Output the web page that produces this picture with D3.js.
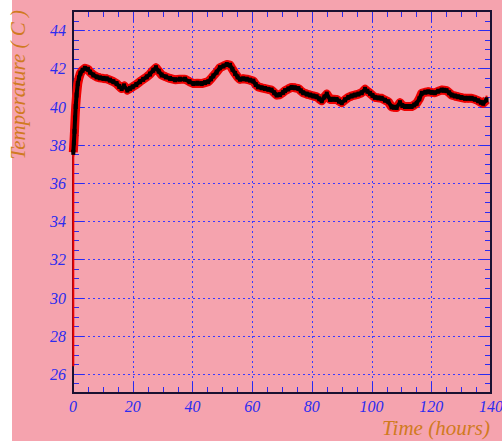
<!DOCTYPE html>
<html>
<head>
<meta charset="utf-8">
<script src="https://cdn.jsdelivr.net/npm/d3@7"></script>
<style>
  body { margin: 0; background: #fff; }
  svg { display: block; }
</style>
</head>
<body>
<svg id="chart" width="502" height="441"></svg>
<script>
// readings (hours since start, temperature in C)
var hours = [0.1, 0.3, 0.5, 0.7, 0.9, 1.2, 1.6, 2.0, 2.5, 3.2, 4.0, 5.0, 5.7, 6.8, 7.9, 9.0,
  10.2, 11.3, 12.4, 13.5, 14.6, 15.5, 16.3, 17.1, 18.2, 19.1, 20.0, 21.2, 22.4, 23.5, 24.7,
  25.8, 26.9, 27.8, 28.7, 29.7, 31.1, 32.5, 34.2, 35.8, 37.5, 39.0, 40.3, 41.7, 43.1, 44.2,
  45.3, 46.2, 47.0, 48.1, 49.2, 50.4, 51.5, 52.6, 53.4, 54.3, 55.1, 55.9, 57.0, 58.2, 59.3,
  60.4, 61.2, 62.0, 63.2, 64.3, 65.4, 66.5, 67.4, 68.2, 69.3, 70.4, 71.0, 72.1, 73.2, 74.3,
  75.5, 76.3, 77.1, 78.3, 79.4, 80.5, 81.6, 82.5, 83.3, 84.2, 85.0, 86.1, 87.2, 88.3, 89.1,
  90.0, 91.1, 92.2, 93.3, 94.4, 95.6, 96.7, 97.8, 98.6, 99.5, 100.3, 101.1, 102.3, 103.4,
  104.5, 105.6, 106.7, 107.5, 108.4, 109.5, 110.3, 111.2, 112.3, 113.4, 114.3, 115.1, 116.0,
  116.8, 118.0, 119.0, 120.1, 121.2, 122.3, 123.5, 124.3, 125.1, 126.0, 126.8, 127.9, 129.0,
  130.1, 131.3, 132.4, 133.5, 134.6, 135.7, 136.6, 137.4, 138.5];
var temps = [37.6, 38.1, 38.7, 39.4, 40.0, 40.6, 41.2, 41.5, 41.75, 41.9, 42.0, 41.95, 41.8, 41.65, 41.55, 41.5,
  41.47, 41.45, 41.38, 41.3, 41.2, 41.05, 40.94, 41.08, 40.86, 40.95, 41.03, 41.15, 41.3, 41.42, 41.55,
  41.7, 41.9, 42.03, 41.85, 41.65, 41.55, 41.47, 41.4, 41.43, 41.43, 41.3, 41.2, 41.22, 41.2, 41.25,
  41.3, 41.45, 41.6, 41.8, 42.03, 42.12, 42.2, 42.16, 41.95, 41.73, 41.55, 41.43, 41.45, 41.43, 41.38,
  41.33, 41.15, 41.03, 40.98, 40.94, 40.9, 40.86, 40.72, 40.6, 40.62, 40.74, 40.83, 40.92, 41.0, 40.98,
  40.94, 40.82, 40.72, 40.65, 40.6, 40.55, 40.51, 40.4, 40.3, 40.5, 40.65, 40.37, 40.38, 40.37, 40.28,
  40.2, 40.35, 40.48, 40.55, 40.6, 40.65, 40.72, 40.9, 40.8, 40.69, 40.58, 40.48, 40.45, 40.43,
  40.33, 40.25, 39.98, 39.96, 39.95, 40.2, 40.05, 40.0, 40.0, 40.0, 40.08, 40.17, 40.4,
  40.69, 40.75, 40.77, 40.74, 40.72, 40.8, 40.86, 40.85, 40.83, 40.72, 40.6, 40.55, 40.51,
  40.47, 40.43, 40.43, 40.43, 40.38, 40.3, 40.22, 40.17, 40.35];
// first reading has a long lower error bar
var firstLow = [0.1, 26.4];
var tempErr = 0.22;

var xTicks = [0, 20, 40, 60, 80, 100, 120, 140];
var yTicks = [26, 28, 30, 32, 34, 36, 38, 40, 42, 44];

var svg = d3.select("#chart");
var W = 502, H = 441;
var m = { left: 73, top: 11, right: 491, bottom: 393 };

svg.append("rect").attr("x", 12).attr("y", 0).attr("width", W - 12).attr("height", H)
  .attr("fill", "#f5a3ae");

var x = d3.scaleLinear().domain([0, 140]).range([m.left, m.right]);
var y = d3.scaleLinear().domain([25, 45]).range([m.bottom, m.top]);

var blue = "#2b2bf0";
var font = "'Liberation Serif', 'DejaVu Serif', serif";

// grid
var grid = svg.append("g").attr("stroke", "#3a3aff").attr("stroke-width", 1)
  .attr("stroke-dasharray", "2,3").attr("shape-rendering", "crispEdges");
grid.selectAll(".gx").data(xTicks.slice(1, -1)).enter().append("line")
  .attr("x1", d => Math.round(x(d)) + 0.5).attr("x2", d => Math.round(x(d)) + 0.5)
  .attr("y1", m.top).attr("y2", m.bottom);
grid.selectAll(".gy").data(yTicks).enter().append("line")
  .attr("y1", d => Math.round(y(d)) + 0.5).attr("y2", d => Math.round(y(d)) + 0.5)
  .attr("x1", m.left).attr("x2", m.right);

// ticks
var minorX = d3.range(0, 140.01, 5);
var minorY = d3.range(25, 45.01, 0.5);
var tk = svg.append("g").attr("stroke", blue).attr("stroke-width", 1)
  .attr("shape-rendering", "crispEdges");
minorX.forEach(function (d) {
  var len = d % 20 === 0 ? 11 : 6;
  var px = Math.round(x(d)) + 0.5;
  tk.append("line").attr("x1", px).attr("x2", px).attr("y1", m.bottom).attr("y2", m.bottom - len);
  tk.append("line").attr("x1", px).attr("x2", px).attr("y1", m.top).attr("y2", m.top + len);
});
minorY.forEach(function (d) {
  var len = d % 2 === 0 ? 11 : 6;
  var py = Math.round(y(d)) + 0.5;
  tk.append("line").attr("y1", py).attr("y2", py).attr("x1", m.left).attr("x2", m.left + len);
  tk.append("line").attr("y1", py).attr("y2", py).attr("x1", m.right).attr("x2", m.right - len);
});

// frame
svg.append("rect").attr("x", m.left).attr("y", m.top)
  .attr("width", m.right - m.left).attr("height", m.bottom - m.top)
  .attr("fill", "none").attr("stroke", "#1a1030").attr("stroke-width", 2);

// data: error bars, band, markers
var pts = hours.map((h, i) => ({ h: h, t: temps[i] }));
var plot = svg.append("g");
plot.append("line")
  .attr("x1", x(firstLow[0])).attr("x2", x(firstLow[0]))
  .attr("y1", y(firstLow[1])).attr("y2", y(temps[0]))
  .attr("stroke", "#ee0000").attr("stroke-width", 2);
var line = d3.line().x(d => x(d.h)).y(d => y(d.t));
plot.append("path").datum(pts).attr("d", line).attr("fill", "none")
  .attr("stroke", "#ee0000").attr("stroke-width", 9).attr("stroke-linejoin", "round");
plot.selectAll(".eb").data(pts).enter().append("line")
  .attr("x1", d => x(d.h)).attr("x2", d => x(d.h))
  .attr("y1", d => y(d.t + tempErr)).attr("y2", d => y(d.t - tempErr))
  .attr("stroke", "#ee0000").attr("stroke-width", 2);
plot.append("path").datum(pts).attr("d", line).attr("fill", "none")
  .attr("stroke", "#000").attr("stroke-width", 4).attr("stroke-linejoin", "round");
plot.selectAll(".mk").data(pts).enter().append("rect")
  .attr("x", d => x(d.h) - 2).attr("y", d => y(d.t) - 2.5)
  .attr("width", 4).attr("height", 5).attr("fill", "#000");

// tick labels
svg.selectAll(".xl").data(xTicks).enter().append("text")
  .attr("x", d => x(d)).attr("y", 412)
  .attr("text-anchor", "middle")
  .attr("font-family", font).attr("font-style", "italic").attr("font-size", 16)
  .attr("fill", blue).text(d => d);
svg.selectAll(".yl").data(yTicks).enter().append("text")
  .attr("x", 66).attr("y", d => y(d) + 6)
  .attr("text-anchor", "end")
  .attr("font-family", font).attr("font-style", "italic").attr("font-size", 16)
  .attr("fill", blue).text(d => d);

// axis titles
svg.append("text").attr("x", 490).attr("y", 435).attr("text-anchor", "end")
  .attr("font-family", font).attr("font-style", "italic").attr("font-size", 21)
  .attr("fill", "#d07a20").text("Time (hours)");
svg.append("text").attr("transform", "translate(25,10) rotate(-90)")
  .attr("text-anchor", "end")
  .attr("font-family", font).attr("font-style", "italic").attr("font-size", 21)
  .attr("fill", "#d07a20").text("Temperature ( C )");
</script>
</body>
</html>
